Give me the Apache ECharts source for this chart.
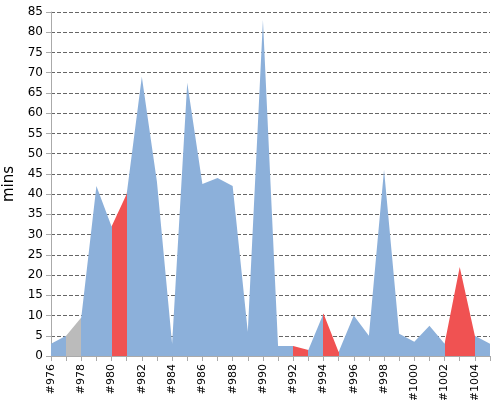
<!DOCTYPE html><html><head><meta charset="utf-8"><script src="https://cdn.jsdelivr.net/npm/echarts@6/dist/echarts.min.js"></script></head><body style="margin:0"><div id="c" style="width:500px;height:400px"></div><script>
const categories = [];
for (let i = 976; i <= 1005; i++) categories.push('#' + i);
const values = [3,5,9.5,42,32,40,69,43,3,67.5,42.5,44,42,6,83,2.5,2.5,1.5,10.5,1,10,5,46,5.5,3.5,7.5,3,22,5,3];
const c = echarts.init(document.getElementById('c'));
c.setOption({
  animation:false,
  grid:{left:51,right:10,top:12,bottom:44,outerBoundsMode:'none',containLabel:false},
  xAxis:{type:'category',data:categories,boundaryGap:false,
    axisLine:{lineStyle:{color:'#aaa'}},axisTick:{interval:0,lineStyle:{color:'#aaa'}},
    axisLabel:{rotate:90,interval:1,color:'#000',fontSize:11,fontFamily:'DejaVu Sans'}},
  yAxis:{type:'value',min:0,max:85,interval:5,name:'mins',nameLocation:'middle',nameGap:32,
    nameTextStyle:{fontSize:15,color:'#000',fontFamily:'DejaVu Sans'},
    axisLine:{show:true,lineStyle:{color:'#aaa'}},axisTick:{show:true,lineStyle:{color:'#aaa'}},
    axisLabel:{color:'#000',fontSize:12,fontFamily:'DejaVu Sans'},
    splitLine:{lineStyle:{color:'#666',type:'dashed'}}},
  visualMap:{show:false,type:'piecewise',dimension:0,seriesIndex:0,
    pieces:[{lte:1,color:'#8CB0DA'},{gt:1,lte:2,color:'#BBBBBB'},{gt:2,lte:4,color:'#8CB0DA'},
      {gt:4,lte:5,color:'#F05252'},{gt:5,lte:16,color:'#8CB0DA'},{gt:16,lte:17,color:'#F05252'},
      {gt:17,lte:18,color:'#8CB0DA'},{gt:18,lte:19,color:'#F05252'},{gt:19,lte:26,color:'#8CB0DA'},
      {gt:26,lte:28,color:'#F05252'},{gt:28,color:'#8CB0DA'}]},
  series:[{type:'line',data:values,symbol:'none',lineStyle:{width:0},areaStyle:{opacity:1}}]
});
</script></body></html>
